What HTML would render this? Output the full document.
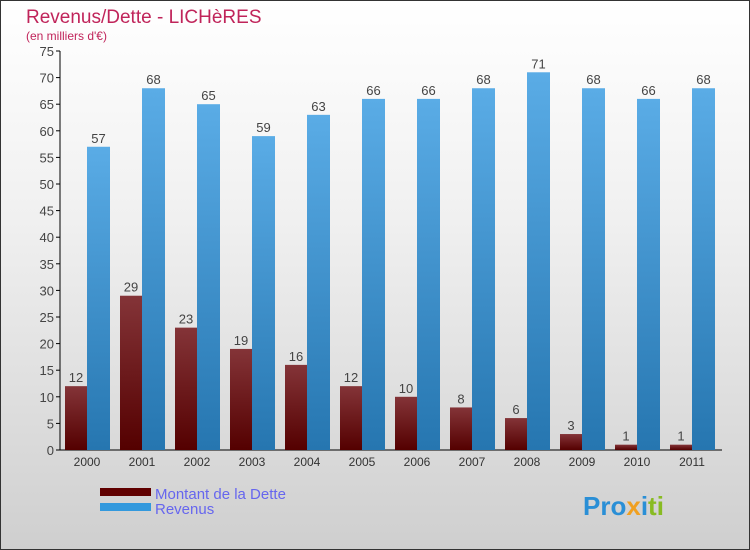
<!DOCTYPE html>
<html><head><meta charset="utf-8"><style>
body{margin:0}
#c{position:relative;width:750px;height:550px;box-sizing:border-box;border:1px solid #333;background:linear-gradient(#fff,#f0f0f0 40%,#cfcfcf);font-family:"Liberation Sans",sans-serif;overflow:hidden}
</style></head><body>
<div id="c">
<svg width="750" height="550" style="position:absolute;left:-1px;top:-1px" id="svg">
<defs>
<linearGradient id="gd" x1="0" y1="0" x2="0" y2="1"><stop offset="0" stop-color="#843438"/><stop offset="1" stop-color="#540000"/></linearGradient>
<linearGradient id="gr" x1="0" y1="0" x2="0" y2="1"><stop offset="0" stop-color="#5aace6"/><stop offset="1" stop-color="#2676b0"/></linearGradient>
</defs>
<text x="26" y="23" font-size="19" fill="#c0245a">Revenus/Dette - LICHèRES</text>
<text x="26" y="40" font-size="12" fill="#c0245a">(en milliers d'€)</text>
<g id="plot"></g>
<rect x="100" y="488" width="51" height="8" fill="#600000"/>
<rect x="100" y="503" width="51" height="8" fill="#3399dd"/>
<text x="155" y="499" font-size="15" fill="#6666ee">Montant de la Dette</text>
<text x="155" y="514" font-size="15" fill="#6666ee">Revenus</text>
<text x="583" y="515" font-size="26" font-weight="bold"><tspan fill="#2a8fd6">Pro</tspan><tspan fill="#f0a020">x</tspan><tspan fill="#2a8fd6">i</tspan><tspan fill="#88bb22">ti</tspan></text>
</svg>
</div>
<script>
const years=["2000","2001","2002","2003","2004","2005","2006","2007","2008","2009","2010","2011"];
const dette=[12,29,23,19,16,12,10,8,6,3,1,1];
const revenus=[57,68,65,59,63,66,66,68,71,68,66,68];
const ticks=[0,5,10,15,20,25,30,35,40,45,50,55,60,65,70,75];
const NS="http://www.w3.org/2000/svg";
const g=document.getElementById('plot');
const y0=450,yTop=51,vMax=75,x0=87,step=55;
const Y=v=>y0-(y0-yTop)*v/vMax;
const X=i=>x0+i*step;
function mk(t,a){const e=document.createElementNS(NS,t);for(const k in a)e.setAttribute(k,a[k]);g.appendChild(e);return e;}
let ax=mk('line',{x1:60,y1:yTop,x2:60,y2:y0,stroke:'#000'});


let bx=mk('line',{x1:59,y1:y0,x2:722,y2:y0,stroke:'#000'});


ticks.forEach(t=>{
 let l=mk('line',{x1:56,y1:Y(t),x2:60,y2:Y(t),stroke:'#000'});
 
 
 let tx=mk('text',{x:54,y:Y(t)+5,'font-size':13,fill:'#444','text-anchor':'end'});tx.textContent=t;
 
 
});
years.forEach((yr,i)=>{
 const c=X(i);
 let t=mk('text',{x:c,y:466,'font-size':12,fill:'#333','text-anchor':'middle'});t.textContent=yr;
 
 
 let b1=mk('rect',{x:c-22,y:Y(dette[i]),width:22,height:y0-Y(dette[i]),fill:'url(#gd)'});
 
 
 let b2=mk('rect',{x:c,y:Y(revenus[i]),width:23,height:y0-Y(revenus[i]),fill:'url(#gr)'});
 
 
 let l1=mk('text',{x:c-11,y:Y(dette[i])-4,'font-size':13,fill:'#444','text-anchor':'middle'});l1.textContent=dette[i];
 
 
 let l2=mk('text',{x:c+11.5,y:Y(revenus[i])-4,'font-size':13,fill:'#444','text-anchor':'middle'});l2.textContent=revenus[i];
 
 
});
</script>
</body></html>
